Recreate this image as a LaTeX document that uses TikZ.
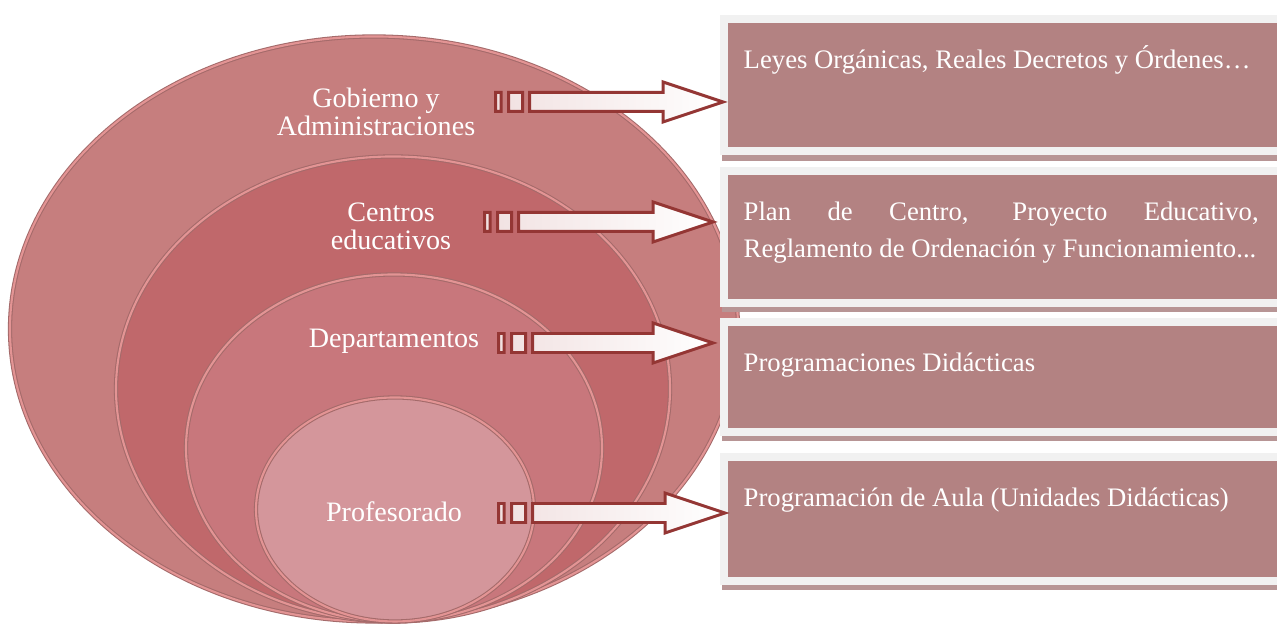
\documentclass[tikz,border=0pt]{standalone}
\usepackage{fontspec}
\setmainfont{Liberation Serif}
\usetikzlibrary{calc,shapes.geometric,shadows}

\definecolor{ringA}{HTML}{C67E7E}
\definecolor{ringB}{HTML}{C0686B}
\definecolor{ringC}{HTML}{C8777C}
\definecolor{ringD}{HTML}{D4969B}
\definecolor{ringline}{HTML}{A46A6A}
\definecolor{ringglow}{HTML}{E39494}
\definecolor{boxfill}{HTML}{B38282}
\definecolor{boxframe}{HTML}{F1F1F1}
\definecolor{boxshadow}{HTML}{B79595}
\definecolor{arrowline}{HTML}{943634}
\definecolor{arrowfill}{HTML}{F1E1E1}

\begin{document}
\begin{tikzpicture}
	\tikzset{ring/.style={ellipse, anchor=south, inner sep=0, draw=ringline, double=ringglow, double distance=0.6pt, line width=0.3pt},
	lab/.style={text=white, align=center, font=\fontsize{8}{8}\selectfont},
	box/.style={rectangle, anchor=north west, fill=boxfill, draw=boxframe, line width=0.8mm, minimum width=6cm,
		drop shadow={shadow xshift=-0.2mm, shadow yshift=-0.95mm, fill=boxshadow, opacity=1}},
	boxtext/.style={text=white, anchor=base west, inner sep=0, font=\fontsize{7.6}{10.5}\selectfont},
	barrow/.style={draw=arrowline, line width=0.85pt, left color=arrowfill, right color=white,
		to path={($(\tikztostart)+(0,-0.095)$) rectangle ($(\tikztostart)+(0.055,0.095)$)
			($(\tikztostart)+(0.13,-0.095)$) rectangle ($(\tikztostart)+(0.27,0.095)$)
			($(\tikztostart)+(0.34,-0.095)$) -- ($(\tikztotarget)+(-0.6,-0.095)$) -- ($(\tikztotarget)+(-0.6,-0.2)$)
			-- (\tikztotarget) -- ($(\tikztotarget)+(-0.6,0.2)$) -- ($(\tikztotarget)+(-0.6,0.095)$)
			-- ($(\tikztostart)+(0.34,0.095)$) -- cycle}}}

	\useasboundingbox (0,0) rectangle (12.77,6.24);

	% nested rings
	\node[ring, fill=ringA, minimum width=7.28cm, minimum height=5.85cm] (r1) at (3.74,0.02) {};
	\node[ring, fill=ringB, minimum width=5.54cm, minimum height=4.65cm] (r2) at (3.93,0.02) {};
	\node[ring, fill=ringC, minimum width=4.16cm, minimum height=3.47cm] (r3) at (3.94,0.02) {};
	\node[ring, fill=ringD, minimum width=2.78cm, minimum height=2.24cm] (r4) at (3.95,0.02) {};

	\node[lab] (gob) at (3.76,5.12) {Gobierno y\\Administraciones};
	\node[lab] (cen) at (3.91,3.98) {Centros\\educativos};
	\node[lab] (dep) at (3.94,2.83) {Departamentos};
	\node[lab] (pro) at (3.94,1.12) {Profesorado};

	% boxes on the right
	\node[box, minimum height=1.32cm] (b1) at (7.20,6.085) {};
	\node[box, minimum height=1.32cm] (b2) at (7.20,4.57) {};
	\node[box, minimum height=1.10cm] (b3) at (7.20,3.06) {};
	\node[box, minimum height=1.24cm] (b4) at (7.20,1.71) {};

	\node[boxtext] (x1) at ($(b1.north west)+(0.23,-0.535)$) {Leyes Orgánicas, Reales Decretos y Órdenes…};
	\node[boxtext, text width=5.15cm, align=justify] (x2) at ($(b2.north west)+(0.23,-0.535)$)
		{Plan de Centro, Proyecto Educativo,\linebreak Reglamento de Ordenación y Funcionamiento...};
	\node[boxtext] (x3) at ($(b3.north west)+(0.23,-0.535)$) {Programaciones Didácticas};
	\node[boxtext] (x4) at ($(b4.north west)+(0.23,-0.535)$) {Programación de Aula (Unidades Didácticas)};

	% striped arrows
	\coordinate (s1) at (4.955,5.22);
	\coordinate (s2) at (4.845,4.02);
	\coordinate (s3) at (4.985,2.81);
	\coordinate (s4) at (4.985,1.11);
	\coordinate (h1) at (7.23,5.22);
	\coordinate (h2) at (7.13,4.02);
	\coordinate (h3) at (7.13,2.81);
	\coordinate (h4) at (7.25,1.11);

	\draw[barrow] (s1) to (h1);
	\draw[barrow] (s2) to (h2);
	\draw[barrow] (s3) to (h3);
	\draw[barrow] (s4) to (h4);
\end{tikzpicture}
\end{document}
